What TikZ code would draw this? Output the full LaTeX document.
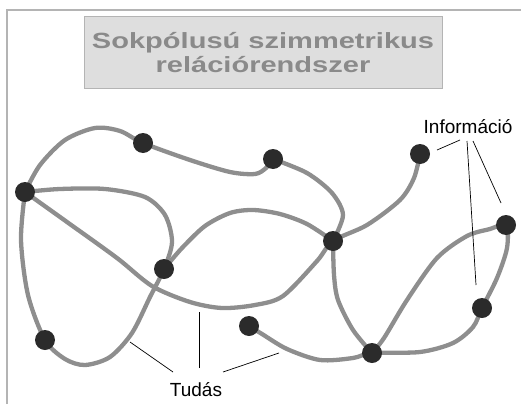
\documentclass[tikz,border=0pt]{standalone}
\usepackage{fontspec}
\setmainfont{Liberation Sans}
\newfontfamily\cimbetu[FakeStretch=1.32]{Liberation Sans}
\usetikzlibrary{backgrounds}
\definecolor{kotelszin}{HTML}{8E8E8E}
\definecolor{pontszin}{HTML}{2B2B2B}
\definecolor{keretszin}{HTML}{B4B4B4}
\definecolor{cimszin}{HTML}{8A8A8A}
\definecolor{dobozszin}{HTML}{DEDEDE}

\begin{document}
\begin{tikzpicture}[x=1pt,y=-1pt,
        pont/.style={circle,fill=pontszin,inner sep=0pt,minimum size=20pt},
        kapcsolat/.style={draw=kotelszin,line width=4.3pt,line cap=round},
        mutato/.style={draw=black,line width=0.7pt},
        felirat/.style={anchor=base,font=\fontsize{19}{22}\selectfont,text=black}]
        \useasboundingbox (0,0) rectangle (521,404);

        % 边框
        \draw[keretszin,line width=1.2pt] (7,404) -- (7,10) -- (521,10);

        % 标题
        \node[draw=keretszin,fill=dobozszin,line width=1pt,minimum width=358pt,minimum height=71pt,
              align=center,text=cimszin,font=\cimbetu\bfseries\fontsize{22}{24}\selectfont]
              (cim) at (263,52.5) {Sokpólusú szimmetrikus\\relációrendszer};

        % 节点
        \node[pont] (A) at (25,192) {};
        \node[pont] (B) at (143,143) {};
        \node[pont] (C) at (273,159) {};
        \node[pont] (D) at (420,154) {};
        \node[pont] (E) at (333,241) {};
        \node[pont] (F) at (164,269) {};
        \node[pont] (G) at (45,340) {};
        \node[pont] (H) at (249,326) {};
        \node[pont] (I) at (372,353) {};
        \node[pont] (J) at (482,308) {};
        \node[pont] (K) at (506,225) {};

        % 连线
        \begin{scope}[on background layer]
        \draw[kapcsolat] plot[smooth] coordinates {(A.center) (40,165) (65,140) (95,128) (120,131) (B.center)
            (190,160) (230,172) (255,174) (266,168) (C.center)};
        \draw[kapcsolat] plot[smooth] coordinates {(C.center) (307,173) (332,193) (343,215) (E.center)};
        \draw[kapcsolat] plot[smooth] coordinates {(A.center) (60,189) (105,189) (145,197) (165,215) (172,242)
            (F.center) (150,297) (132,333) (110,357) (85,365) (65,359) (G.center) (28,295) (21,240) (A.center)};
        \draw[kapcsolat] plot[smooth] coordinates {(A.center) (67,222) (117,258) (152,286) (190,302) (222,308)
            (255,305) (283,296) (317,261) (E.center) (367,225) (400,200) (414,178) (D.center)};
        \draw[kapcsolat] plot[smooth] coordinates {(F.center) (182,248) (205,226) (230,213) (253,210) (280,214)
            (307,224) (E.center)};
        \draw[kapcsolat] plot[smooth] coordinates {(E.center) (334,275) (338,300) (353,330) (I.center)};
        \draw[kapcsolat] plot[smooth] coordinates {(H.center) (262,334) (287,349) (320,360) (353,358) (I.center)
            (420,352) (453,343) (473,327) (J.center) (497,278) (507,248) (K.center) (490,229) (467,236)
            (437,258) (407,300) (384,338) (I.center)};
        \end{scope}

        % 标签
        \node[felirat] (info) at (468,133) {Információ};
        \node[felirat] (tudas) at (196,396) {Tudás};

        % 指示线
        \coordinate (i0) at (460,140);
        \coordinate (i1) at (437,150);
        \coordinate (i2) at (467,141);
        \coordinate (i3) at (476,285);
        \coordinate (i4) at (473,141);
        \coordinate (i5) at (501,203);
        \draw[mutato] (i0) -- (i1);
        \draw[mutato] (i2) -- (i3);
        \draw[mutato] (i4) -- (i5);

        \coordinate (t0) at (173,372);
        \coordinate (t1) at (130,342);
        \coordinate (t2) at (199,368);
        \coordinate (t3) at (199,312);
        \coordinate (t4) at (223,372);
        \coordinate (t5) at (279,353);
        \draw[mutato] (t0) -- (t1);
        \draw[mutato] (t2) -- (t3);
        \draw[mutato] (t4) -- (t5);
    \end{tikzpicture}
\end{document}
